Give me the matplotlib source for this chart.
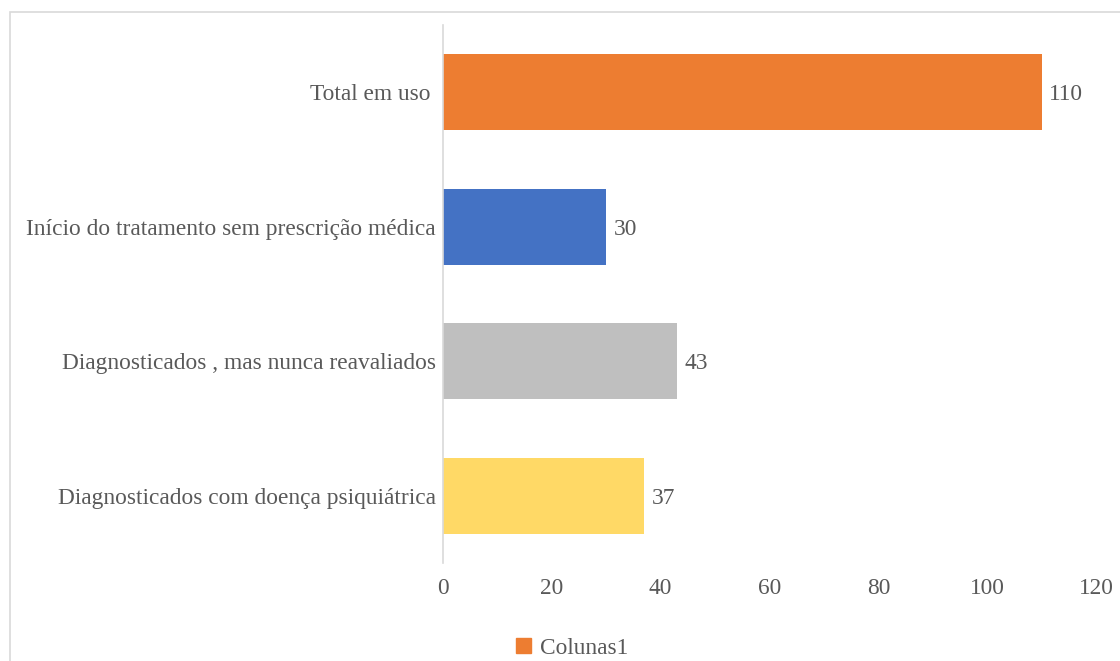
import matplotlib.pyplot as plt
from matplotlib.patches import Rectangle

## chart data
categories = ["Total em uso ",
              "Início do tratamento sem prescrição médica",
              "Diagnosticados , mas nunca reavaliados",
              "Diagnosticados com doença psiquiátrica"]
values = [110, 30, 43, 37]
bar_colors = ["#ED7D31", "#4472C4", "#BFBFBF", "#FFD966"]
xticks = [0, 20, 40, 60, 80, 100, 120]
legend_label = "Colunas1"

plt.rcParams['font.family'] = ['Liberation Serif', 'DejaVu Serif']
txt = "#595959"
fs = 16.8

fig = plt.figure(figsize=(11.2, 6.61), dpi=100)
ax = fig.add_axes([443/1120, 1 - 563/661, (1096 - 443)/1120, (563 - 25)/661])

ypos = range(len(categories))
bars = ax.barh(ypos, values, height=0.565, color=bar_colors)
ax.set_ylim(3.5, -0.5)
ax.set_xlim(0, 120)
ax.set_xticks(xticks)
ax.set_yticks(list(ypos))
ax.set_yticklabels(categories)
ax.tick_params(axis='both', length=0, labelsize=fs, colors=txt)
ax.tick_params(axis='y', pad=5)
ax.tick_params(axis='x', pad=11)

for s in ['top', 'right', 'bottom']:
    ax.spines[s].set_visible(False)
ax.spines['left'].set_color("#D9D9D9")
ax.spines['left'].set_linewidth(1.2)

for b, v in zip(bars, values):
    ax.text(b.get_width() + 1.4, b.get_y() + b.get_height()/2, str(v),
            va='center_baseline', ha='left', fontsize=fs, color=txt)

## legend only shows the first series colour, like the excel default
handle = Rectangle((0, 0), 1, 1, color=bar_colors[0])
fig.legend([handle], [legend_label], loc='center', bbox_to_anchor=(572/1120, 1 - 648/661),
           frameon=False, fontsize=fs, labelcolor=txt, handlelength=0.65, handleheight=0.65,
           handletextpad=0.4)

## chart area border
fig.patches.append(Rectangle((10/1120, -0.01), 1.02, 1 - 12/661 + 0.01, transform=fig.transFigure,
                             fill=False, edgecolor="#D9D9D9", linewidth=1.2))

plt.savefig("out.png", dpi=100)
